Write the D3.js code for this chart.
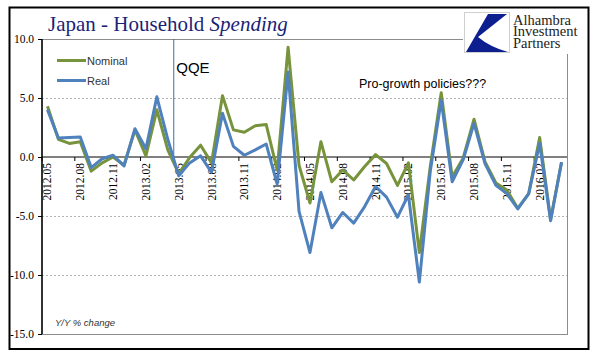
<!DOCTYPE html>
<html>
<head>
<meta charset="utf-8">
<script src="https://cdn.jsdelivr.net/npm/d3@7/dist/d3.min.js"></script>
<style>
  body { margin: 0; background: #fff; }
  svg { display: block; }
</style>
</head>
<body>
<script>
// months on the category axis
var months = [
  "2012.05","2012.06","2012.07","2012.08","2012.09","2012.10","2012.11","2012.12",
  "2013.01","2013.02","2013.03","2013.04","2013.05","2013.06","2013.07","2013.08",
  "2013.09","2013.10","2013.11","2013.12","2014.01","2014.02","2014.03","2014.04",
  "2014.05","2014.06","2014.07","2014.08","2014.09","2014.10","2014.11","2014.12",
  "2015.01","2015.02","2015.03","2015.04","2015.05","2015.06","2015.07","2015.08",
  "2015.09","2015.10","2015.11","2015.12","2016.01","2016.02","2016.03","2016.04"
];

// Y/Y % change
var nominal = [
  4.3, 1.5, 1.15, 1.3, -1.2, -0.5, 0.0, -0.7, 2.3, 0.1, 4.0, 0.6,
  -1.4, -0.05, 1.0, -0.5, 5.2, 2.3, 2.1, 2.65, 2.75, -1.1, 9.3, -0.7,
  -3.9, 1.3, -2.1, -1.1, -1.95, -0.8, 0.2, -0.55, -2.4, -0.5, -8.1, -0.8,
  5.45, -1.7, -0.1, 3.2, -0.4, -2.2, -2.8, -4.35, -3.1, 1.65, -5.3, -0.45
];
var real = [
  4.0, 1.6, 1.65, 1.7, -0.9, -0.15, 0.15, -0.75, 2.4, 0.7, 5.1, 1.5,
  -1.6, -0.5, 0.1, -1.3, 3.7, 0.9, 0.15, 0.6, 1.1, -2.3, 7.2, -4.6,
  -8.1, -3.0, -6.0, -4.7, -5.6, -4.2, -2.5, -3.4, -5.1, -3.2, -10.6, -1.2,
  4.8, -2.1, -0.25, 2.85, -0.55, -2.4, -3.1, -4.4, -3.1, 1.15, -5.4, -0.45
];

var xTickLabels = ["2012.05","2012.08","2012.11","2013.02","2013.05","2013.08","2013.11",
  "2014.02","2014.05","2014.08","2014.11","2015.02","2015.05","2015.08","2015.11","2016.02"];
var yTicks = [10, 5, 0, -5, -10, -15];
var gridTicks = [5, -5, -10];
var qqeMonth = "2013.05";

var width = 596, height = 361;
var plotL = 42, plotR = 567, plotT = 39, plotB = 334;

var svg = d3.select('body').append('svg')
  .attr('width', width)
  .attr('height', height);

var x = d3.scaleBand().domain(months).range([plotL, plotR]).padding(0);
var y = d3.scaleLinear().domain([-15, 10]).range([plotB, plotT]);
var cx = function(m) { return x(m) + x.bandwidth() / 2; };

// outer border
svg.append('rect')
  .attr('x', 9.5).attr('y', 7.5)
  .attr('width', 579).attr('height', 341.5)
  .attr('fill', 'none').attr('stroke', '#000').attr('stroke-width', 2);

// plot frame
svg.append('rect')
  .attr('x', plotL).attr('y', plotT + 0.5)
  .attr('width', plotR - plotL + 0.5).attr('height', plotB - plotT)
  .attr('fill', 'none').attr('stroke', '#8c8c8c').attr('stroke-width', 1);

// dashed grid
svg.selectAll('.grid').data(gridTicks).enter()
  .append('line')
  .attr('x1', plotL).attr('x2', plotR)
  .attr('y1', function(d) { return Math.round(y(d)) + 0.5; })
  .attr('y2', function(d) { return Math.round(y(d)) + 0.5; })
  .attr('stroke', '#b4b4b4').attr('stroke-dasharray', '2,2');

// y axis
var yAxis = d3.axisLeft(y).tickValues(yTicks).tickSize(4).tickPadding(4);
var gy = svg.append('g').attr('transform', 'translate(' + plotL + ',0)').call(yAxis);
gy.select('.domain').remove();
gy.selectAll('.tick line').attr('stroke', '#000');
gy.selectAll('.tick text')
  .attr('font-family', 'Liberation Serif, Times New Roman, serif')
  .attr('font-size', 11.5).attr('fill', '#000')
  .text(function(d) { return d.toFixed(1); });
svg.append('line')
  .attr('x1', plotL).attr('x2', plotL).attr('y1', plotT).attr('y2', plotB)
  .attr('stroke', '#000').attr('stroke-width', 1.5);

// zero line
svg.append('line')
  .attr('x1', plotL).attr('x2', plotR)
  .attr('y1', y(0)).attr('y2', y(0))
  .attr('stroke', '#000').attr('stroke-width', 1);

// x ticks and labels
var gx = svg.append('g');
gx.selectAll('line').data(xTickLabels).enter()
  .append('line')
  .attr('x1', function(d) { return x(d); })
  .attr('x2', function(d) { return x(d); })
  .attr('y1', y(0)).attr('y2', y(0) + 4)
  .attr('stroke', '#000');
gx.selectAll('text').data(xTickLabels).enter()
  .append('text')
  .attr('transform', function(d) { return 'translate(' + (cx(d) + 4) + ',' + (y(0) + 6) + ') rotate(-90)'; })
  .attr('text-anchor', 'end')
  .attr('font-family', 'Liberation Serif, Times New Roman, serif')
  .attr('font-size', 11.5)
  .text(function(d) { return d; });

// QQE marker
svg.append('line')
  .attr('x1', x(qqeMonth) + 0.5).attr('x2', x(qqeMonth) + 0.5)
  .attr('y1', plotT).attr('y2', y(0))
  .attr('stroke', '#3f6f9f').attr('stroke-width', 1);
svg.append('text')
  .attr('x', x(qqeMonth) + 3).attr('y', 73)
  .attr('font-family', 'Liberation Sans, Arial, sans-serif')
  .attr('font-size', 15)
  .text('QQE');

svg.append('text')
  .attr('x', 359).attr('y', 88)
  .attr('font-family', 'Liberation Sans, Arial, sans-serif')
  .attr('font-size', 12.5)
  .text('Pro-growth policies???');

// series lines
var line = d3.line()
  .x(function(d, i) { return cx(months[i]); })
  .y(function(d) { return y(d); });

svg.append('path').datum(nominal)
  .attr('d', line).attr('fill', 'none')
  .attr('stroke', '#77933c').attr('stroke-width', 3).attr('stroke-linejoin', 'round');
svg.append('path').datum(real)
  .attr('d', line).attr('fill', 'none')
  .attr('stroke', '#4f81bd').attr('stroke-width', 3).attr('stroke-linejoin', 'round');

// legend
var legend = [{ name: 'Nominal', color: '#77933c', y: 60.5 }, { name: 'Real', color: '#4f81bd', y: 80.5 }];
var lg = svg.selectAll('.legend').data(legend).enter().append('g');
lg.append('line')
  .attr('x1', 57).attr('x2', 86)
  .attr('y1', function(d) { return d.y; }).attr('y2', function(d) { return d.y; })
  .attr('stroke', function(d) { return d.color; }).attr('stroke-width', 3);
lg.append('text')
  .attr('x', 87).attr('y', function(d) { return d.y + 4; })
  .attr('font-family', 'Liberation Sans, Arial, sans-serif')
  .attr('font-size', 11).attr('fill', '#333')
  .text(function(d) { return d.name; });

svg.append('text')
  .attr('x', 55).attr('y', 326)
  .attr('font-family', 'Liberation Sans, Arial, sans-serif')
  .attr('font-size', 9.5).attr('font-style', 'italic').attr('fill', '#333')
  .text('Y/Y % change');

// title
var title = svg.append('text')
  .attr('x', 48).attr('y', 31)
  .attr('font-family', 'Liberation Serif, Times New Roman, serif')
  .attr('font-size', 21).attr('fill', '#1c1f78');
title.append('tspan').text('Japan - Household ');
title.append('tspan').attr('font-style', 'italic').text('Spending');

// logo
var logo = svg.append('g');
logo.append('rect')
  .attr('x', 463).attr('y', 9).attr('width', 124).attr('height', 45)
  .attr('fill', '#fff');
logo.append('rect')
  .attr('x', 464.5).attr('y', 12.5).attr('width', 45).attr('height', 40)
  .attr('fill', '#fff').attr('stroke', '#d0d0d0');
logo.append('path')
  .attr('d', 'M488,14 L507,14 L478,37 Q490,47 508,52 L466,52 Z')
  .attr('fill', '#0d1f8f');
var logoText = logo.append('text')
  .attr('x', 513).attr('y', 24.5)
  .attr('font-family', 'Liberation Serif, Times New Roman, serif')
  .attr('font-size', 14.5).attr('fill', '#222');
logoText.selectAll('tspan').data(['Alhambra', 'Investment', 'Partners']).enter()
  .append('tspan')
  .attr('x', 513).attr('dy', function(d, i) { return i === 0 ? 0 : 11.5; })
  .text(function(d) { return d; });
</script>
</body>
</html>
